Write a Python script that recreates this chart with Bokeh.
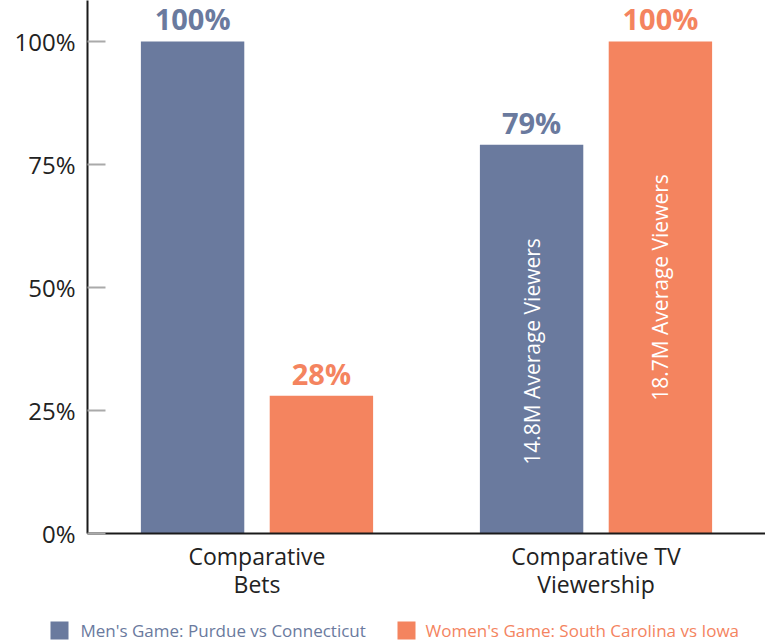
from math import pi
from bokeh.plotting import figure
from bokeh.models import (ColumnDataSource, FactorRange, Range1d, FixedTicker,
                          NumeralTickFormatter)
from bokeh.layouts import column
from bokeh.transform import dodge
from bokeh.core.properties import value
from bokeh.embed import file_html
from bokeh.resources import INLINE

categories = ["Comparative\nBets", "Comparative TV\nViewership"]
series_names = ["Men's Game: Purdue vs Connecticut", "Women's Game: South Carolina vs Iowa"]
mens = [1.00, 0.79]
womens = [0.28, 1.00]
mens_labels = ["100%", "79%"]
womens_labels = ["28%", "100%"]
# inside-bar notes for the TV viewership group
note_cats = ["Comparative TV\nViewership"]
mens_note = ["14.8M Average Viewers"]
womens_note = ["18.7M Average Viewers"]
mens_note_y = [0.37]
womens_note_y = [0.50]
y_ticks = [0, 0.25, 0.5, 0.75, 1.0]

BLUE = "#6A7A9E"
ORANGE = "#F4845F"
FONT = "Open Sans"
TXT = "#222222"

p = figure(x_range=FactorRange(*categories, range_padding=0), y_range=Range1d(0, 1.0833),
           width=765, height=606, output_backend="svg", toolbar_location=None,
           min_border_left=87, min_border_right=0, min_border_top=0, min_border_bottom=73)
p.outline_line_color = None
p.xgrid.visible = False
p.ygrid.visible = False

src = ColumnDataSource(dict(cat=categories, mens=mens, womens=womens,
                            ml=mens_labels, wl=womens_labels))
OFF = 0.19
W = 0.305
p.vbar(x=dodge("cat", -OFF, range=p.x_range), top="mens", width=W, source=src,
       fill_color=BLUE, line_color=None)
p.vbar(x=dodge("cat", OFF, range=p.x_range), top="womens", width=W, source=src,
       fill_color=ORANGE, line_color=None)

p.text(x=dodge("cat", -OFF, range=p.x_range), y="mens", text="ml", source=src,
       text_color=BLUE, text_font=value(FONT), text_font_style="bold", text_font_size="29px",
       text_align="center", text_baseline="bottom", y_offset=-3)
p.text(x=dodge("cat", OFF, range=p.x_range), y="womens", text="wl", source=src,
       text_color=ORANGE, text_font=value(FONT), text_font_style="bold", text_font_size="29px",
       text_align="center", text_baseline="bottom", y_offset=-3)

nsrc = ColumnDataSource(dict(cat=note_cats, mn=mens_note, wn=womens_note,
                             my=mens_note_y, wy=womens_note_y))
p.text(x=dodge("cat", -OFF, range=p.x_range), y="my", text="mn", source=nsrc, angle=pi / 2,
       text_color="white", text_font=value(FONT), text_font_size="21px",
       text_align="center", text_baseline="middle")
p.text(x=dodge("cat", OFF, range=p.x_range), y="wy", text="wn", source=nsrc, angle=pi / 2,
       text_color="white", text_font=value(FONT), text_font_size="21px",
       text_align="center", text_baseline="middle")

ya = p.yaxis[0]
ya.ticker = FixedTicker(ticks=y_ticks)
ya.formatter = NumeralTickFormatter(format="0%")
ya.axis_line_color = "#1a1a1a"
ya.axis_line_width = 2
ya.major_tick_in = 18
ya.major_tick_out = 0
ya.major_tick_line_color = "#aaaaaa"
ya.major_tick_line_width = 2
ya.minor_tick_line_color = None
ya.major_label_text_font = FONT
ya.major_label_text_font_size = "24px"
ya.major_label_text_color = TXT
ya.major_label_standoff = 12

xa = p.xaxis[0]
xa.axis_line_color = "#1a1a1a"
xa.axis_line_width = 2
xa.major_tick_line_color = None
xa.minor_tick_line_color = None
xa.major_label_text_font = FONT
xa.major_label_text_font_size = "23px"
xa.major_label_text_line_height = 0.88
xa.major_label_text_color = TXT
xa.major_label_standoff = 0

# legend strip
lg = figure(width=765, height=37, x_range=Range1d(0, 765), y_range=Range1d(0, 37),
            output_backend="svg", toolbar_location=None,
            x_axis_location=None, y_axis_location=None,
            min_border_left=0, min_border_right=0, min_border_top=0, min_border_bottom=0)
lg.grid.visible = False
lg.outline_line_color = None
for fig in (p, lg):
    if "frame_align" in fig.properties():
        fig.frame_align = False
sw_x = [59, 406]
tx_x = [80, 425]
cols = [BLUE, ORANGE]
lsrc = ColumnDataSource(dict(sx=sw_x, tx=tx_x, c=cols, name=series_names))
lg.rect(x="sx", y=13, width=18, height=18, fill_color="c", line_color=None, source=lsrc)
lg.text(x="tx", y=13, text="name", text_color="c", source=lsrc, text_font=value(FONT),
        text_font_size="17px", text_align="left", text_baseline="middle")

layout = column(p, lg, spacing=0)
open("out.html", "w").write(file_html(layout, INLINE))
